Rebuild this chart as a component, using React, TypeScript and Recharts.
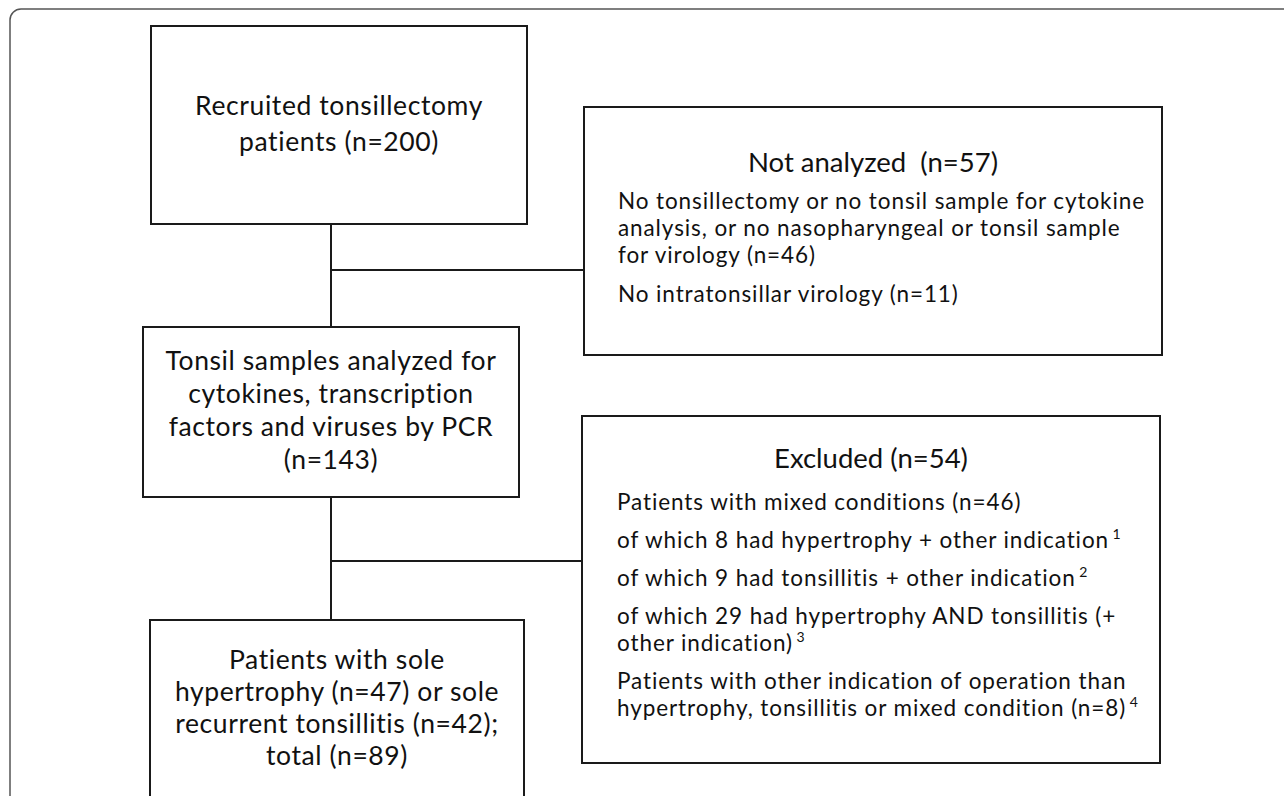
import React from "react";
import { ComposedChart, XAxis, YAxis, ReferenceArea, ReferenceLine, Scatter } from "recharts";

// ---- content (text of the flow chart) ----
const recruitedLines = ["Recruited tonsillectomy", "patients (n=200)"];
const analyzedLines = [
  "Tonsil samples analyzed for",
  "cytokines, transcription",
  "factors and viruses by PCR",
  "(n=143)",
];
const finalLines = [
  "Patients with sole",
  "hypertrophy (n=47) or sole",
  "recurrent tonsillitis (n=42);",
  "total (n=89)",
];
const notAnalyzedTitle = "Not analyzed  (n=57)";
const notAnalyzedParagraphs = [
  [
    "No tonsillectomy or no tonsil sample for cytokine",
    "analysis, or no nasopharyngeal or tonsil sample",
    "for virology (n=46)",
  ],
  ["No intratonsillar virology (n=11)"],
];
const notAnalyzedNotes = ["", ""];
const excludedTitle = "Excluded (n=54)";
const excludedParagraphs = [
  ["Patients with mixed conditions (n=46)"],
  ["of which 8 had hypertrophy + other indication"],
  ["of which 9 had tonsillitis + other indication"],
  ["of which 29 had hypertrophy AND tonsillitis (+", "other indication)"],
  [
    "Patients with other indication of operation than",
    "hypertrophy, tonsillitis or mixed condition (n=8)",
  ],
];
const excludedNotes = ["", "1", "2", "3", "4"];

// ---- layout (page coordinates) ----
const W = 1284;
const H = 796;
const FONT = "Lato, 'Open Sans', sans-serif";
const INK = "#111";
const MAIN_SIZE = 26.5;
const MAIN_SPACING = 0.6;
const BODY_SIZE = 22.5;
const BODY_SPACING = 0.9;
const TITLE_SIZE = 27.5;

type CenterSpec = { lines: string[]; firstBaseline: number; lineHeight: number };
type ListSpec = {
  title: string;
  paragraphs: string[][];
  notes: string[];
  titleBaseline: number;
  bodyBaseline: number;
  lineHeight: number;
  paraGap: number;
  left: number;
};

const CenterText = (props: any) => {
  const { viewBox, spec } = props;
  const s: CenterSpec = spec;
  const cx = viewBox.x + viewBox.width / 2;
  return (
    <g>
      {s.lines.map((l, i) => (
        <text
          key={i}
          x={cx}
          y={viewBox.y + s.firstBaseline + i * s.lineHeight}
          textAnchor="middle"
          fontFamily={FONT}
          fontSize={MAIN_SIZE}
          letterSpacing={MAIN_SPACING}
          fill={INK}
        >
          {l}
        </text>
      ))}
    </g>
  );
};

const ListText = (props: any) => {
  const { viewBox, spec } = props;
  const s: ListSpec = spec;
  const cx = viewBox.x + viewBox.width / 2;
  const rows: React.ReactNode[] = [];
  let y = viewBox.y + s.bodyBaseline;
  s.paragraphs.forEach((p, pi) => {
    p.forEach((line, li) => {
      const last = li === p.length - 1;
      rows.push(
        <text
          key={`${pi}-${li}`}
          x={viewBox.x + s.left}
          y={y}
          fontFamily={FONT}
          fontSize={BODY_SIZE}
          letterSpacing={BODY_SPACING}
          fill={INK}
        >
          {line}
          {last && s.notes[pi] ? (
            <tspan fontSize={14} dy={-9} letterSpacing={0}>
              {" " + s.notes[pi]}
            </tspan>
          ) : null}
        </text>
      );
      if (!last) y += s.lineHeight;
    });
    y += s.lineHeight + s.paraGap;
  });
  return (
    <g>
      <text
        x={cx}
        y={viewBox.y + s.titleBaseline}
        textAnchor="middle"
        fontFamily={FONT}
        fontSize={TITLE_SIZE}
        fill={INK}
        style={{ whiteSpace: "pre" }}
      >
        {s.title}
      </text>
      {rows}
    </g>
  );
};

const boxStroke = { stroke: "#1a1a1a", strokeWidth: 2, fill: "#fff", fillOpacity: 1 };
const lineStroke = { stroke: "#1a1a1a", strokeWidth: 2 };

export default function App() {
  return (
    <div style={{ position: "absolute", left: 0, top: 0, background: "#fff" }}>
      <ComposedChart width={W} height={H} margin={{ top: 0, right: 0, bottom: 0, left: 0 }} data={[]}>
        <XAxis type="number" dataKey="x" domain={[0, W]} hide allowDataOverflow />
        <YAxis type="number" dataKey="y" domain={[0, H]} reversed hide allowDataOverflow />
        <Scatter data={[]} isAnimationActive={false} />

        {/* outer frame */}
        <ReferenceArea
          x1={10}
          x2={1310}
          y1={9}
          y2={830}
          ifOverflow="visible"
          fill="none"
          fillOpacity={0}
          stroke="#555"
          strokeWidth={1.5}
          radius={11}
        />

        {/* connectors */}
        <ReferenceLine segment={[{ x: 331, y: 224 }, { x: 331, y: 327 }]} ifOverflow="visible" {...lineStroke} />
        <ReferenceLine segment={[{ x: 331, y: 497 }, { x: 331, y: 620 }]} ifOverflow="visible" {...lineStroke} />
        <ReferenceLine segment={[{ x: 331, y: 270 }, { x: 584, y: 270 }]} ifOverflow="visible" {...lineStroke} />
        <ReferenceLine segment={[{ x: 331, y: 561 }, { x: 582, y: 561 }]} ifOverflow="visible" {...lineStroke} />

        {/* boxes */}
        <ReferenceArea
          x1={151}
          x2={527}
          y1={26}
          y2={224}
          ifOverflow="visible"
          {...boxStroke}
          label={<CenterText spec={{ lines: recruitedLines, firstBaseline: 89, lineHeight: 36 }} />}
        />
        <ReferenceArea
          x1={143}
          x2={519}
          y1={327}
          y2={497}
          ifOverflow="visible"
          {...boxStroke}
          label={<CenterText spec={{ lines: analyzedLines, firstBaseline: 43, lineHeight: 33 }} />}
        />
        <ReferenceArea
          x1={150}
          x2={524}
          y1={620}
          y2={830}
          ifOverflow="visible"
          {...boxStroke}
          label={<CenterText spec={{ lines: finalLines, firstBaseline: 49, lineHeight: 32 }} />}
        />
        <ReferenceArea
          x1={584}
          x2={1162}
          y1={107}
          y2={355}
          ifOverflow="visible"
          {...boxStroke}
          label={
            <ListText
              spec={{
                title: notAnalyzedTitle,
                paragraphs: notAnalyzedParagraphs,
                notes: notAnalyzedNotes,
                titleBaseline: 65,
                bodyBaseline: 102,
                lineHeight: 27,
                paraGap: 12,
                left: 34,
              }}
            />
          }
        />
        <ReferenceArea
          x1={582}
          x2={1160}
          y1={416}
          y2={763}
          ifOverflow="visible"
          {...boxStroke}
          label={
            <ListText
              spec={{
                title: excludedTitle,
                paragraphs: excludedParagraphs,
                notes: excludedNotes,
                titleBaseline: 52,
                bodyBaseline: 94,
                lineHeight: 27,
                paraGap: 11,
                left: 35,
              }}
            />
          }
        />
      </ComposedChart>
    </div>
  );
}
